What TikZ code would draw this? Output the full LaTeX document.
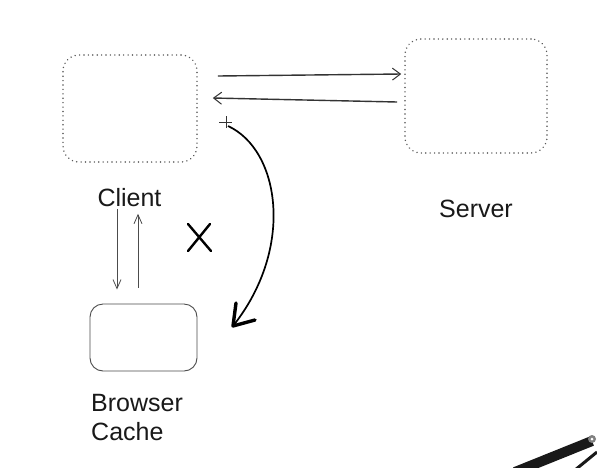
\documentclass[tikz,border=0pt]{standalone}
\usepackage{fontspec}
\setmainfont{Liberation Sans}
\usetikzlibrary{arrows.meta,calc}
\begin{document}
\begin{tikzpicture}[x=1pt,y=-1pt,
  dotbox/.style={draw=black!65, line width=1.6pt, dash pattern=on 0.01pt off 4.4pt, line cap=round, rounded corners=16pt, inner sep=0pt},
  solidbox/.style={draw=black!70, line width=0.9pt, rounded corners=13pt, inner sep=0pt},
  lbl/.style={font=\fontsize{25}{29}\selectfont, text=black!90, inner sep=0pt},
  arr/.style={draw=black!80, line width=1.4pt, -{Straight Barb[length=8pt,width=12pt,line width=1pt]}},
  thinarr/.style={draw=black!70, line width=0.8pt, -{Straight Barb[length=9pt,width=8pt,line width=0.8pt]}},
  curvearr/.style={draw=black, line width=1.7pt},
  tip/.style={draw=black, line width=3.4pt, line cap=round, line join=round},
]
\useasboundingbox (0,0) rectangle (597,467);
\fill[white] (0,0) rectangle (597,467);

\node[dotbox, minimum width=134pt, minimum height=107pt] (client) at (130,108.5) {};
\node[dotbox, minimum width=142pt, minimum height=114pt] (server) at (476,96) {};
\node[solidbox, minimum width=107pt, minimum height=67pt] (cache) at (143.5,337.5) {};

\node[lbl] (clientlbl) at (129.5,198) {Client};
\node[lbl] (serverlbl) at (476,209) {Server};
\node[lbl, align=left, anchor=north west] (cachelbl) at (91,394) {Browser\\Cache};

% client <-> server
\draw[arr] ([shift={(20,-32.5)}]client.east) -- ([shift={(-3,-22)}]server.west);
\draw[arr] ([shift={(-7,6)}]server.west) -- ([shift={(15,-10.5)}]client.east);

% client <-> cache
\draw[thinarr] ([shift={(-13,46)}]client.south) -- ([shift={(-26.5,-14)}]cache.north);
\draw[thinarr] ([shift={(-5.5,-16)}]cache.north) -- ([shift={(8,51)}]client.south);

% plus sign and curved arrow
\coordinate (plus) at (226,122);
\draw[black!80, line width=0.8pt] ([xshift=-7pt]plus) -- ([xshift=6pt]plus)
  ([yshift=-6pt]plus) -- ([yshift=6pt]plus);
\coordinate (cstart) at (228,126);
\coordinate (ctip) at (233,326);
\draw[curvearr] (cstart) .. controls (280,150) and (295,248) .. (ctip);
\draw[tip] (236,303) -- (ctip) -- (255,320);

% X mark
\coordinate (xm) at (199,237);
\draw[black, line width=2.4pt, line cap=round] ([shift={(-11,-13)}]xm) -- ([shift={(12,14)}]xm)
  ([shift={(11,-13)}]xm) -- ([shift={(-11,14)}]xm);

% object in bottom-right corner
\draw[black!90, line width=10pt] (515,472) -- (592,441);
\draw[black!90, line width=3pt] (575,470) -- (597,452);
\fill[black!50] (592,439) circle (4pt);
\fill[white] (592,439) circle (1.5pt);
\end{tikzpicture}
\end{document}
